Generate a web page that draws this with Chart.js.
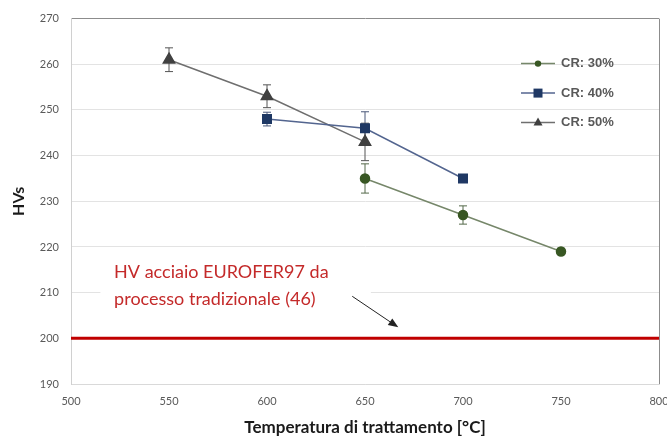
<!DOCTYPE html>
<html>
<head>
<meta charset="utf-8">
<title>HVs vs temperatura di trattamento</title>
<script src="https://cdn.jsdelivr.net/npm/chart.js@4.4.1/dist/chart.umd.min.js"></script>
<style>
  body { margin: 0; background: #ffffff; }
  #wrap { width: 667px; height: 437px; }
</style>
</head>
<body>
<div id="wrap"><canvas id="myChart"></canvas></div>
<script>
// values
const temps30 = [650, 700, 750];   // CR: 30%
const hv30 = [235, 227, 219];
const err30 = [3.2, 2.0, 0.7];

const temps40 = [600, 650, 700];   // CR: 40%
const hv40 = [248, 246, 235];
const err40 = [1.5, 3.6, 0.4];

const temps50 = [550, 600, 650];   // CR: 50%
const hv50 = [261, 253, 243];
const err50 = [2.6, 2.5, 4.1];

const refTemps = [500, 800];       // EUROFER97 reference
const refHv = [200, 200];

const seriesLabels = ['CR: 30%', 'CR: 40%', 'CR: 50%'];
const xMin = 500, xMax = 800, xStep = 50;
const yMin = 190, yMax = 270, yStep = 10;

const noteLines = ['HV acciaio EUROFER97 da', 'processo tradizionale (46)'];

function toPoints(xs, ys) {
    return xs.map((x, i) => ({x: x, y: ys[i]}));
}

// error bars, drawn under the markers
const errorBars = {
    id: 'errorBars',
    beforeDatasetsDraw(chart) {
        const ctx = chart.ctx;
        const xs = chart.scales.x, ys = chart.scales.y;
        chart.data.datasets.forEach(ds => {
            if (!ds.errors) return;
            ctx.save();
            ctx.strokeStyle = ds.errColor;
            ctx.lineWidth = 1;
            ds.data.forEach((p, i) => {
                const px = xs.getPixelForValue(p.x);
                const top = ys.getPixelForValue(p.y + ds.errors[i]);
                const bot = ys.getPixelForValue(p.y - ds.errors[i]);
                ctx.beginPath();
                ctx.moveTo(px, top); ctx.lineTo(px, bot);
                ctx.moveTo(px - 4, top); ctx.lineTo(px + 4, top);
                ctx.moveTo(px - 4, bot); ctx.lineTo(px + 4, bot);
                ctx.stroke();
            });
            ctx.restore();
        });
    }
};

// red note with white box and arrow
const refNote = {
    id: 'refNote',
    beforeDatasetsDraw(chart) {
        const ctx = chart.ctx;
        const xs = chart.scales.x, ys = chart.scales.y;
        ctx.save();
        // white box hides the 210 gridline behind the note
        const bx0 = xs.getPixelForValue(515), bx1 = xs.getPixelForValue(653);
        const by0 = ys.getPixelForValue(216), by1 = ys.getPixelForValue(205);
        ctx.fillStyle = '#ffffff';
        ctx.fillRect(bx0, by0, bx1 - bx0, by1 - by0);

        ctx.fillStyle = '#c42a2a';
        ctx.font = '18px Lato';
        ctx.textBaseline = 'alphabetic';
        ctx.textAlign = 'left';
        const tx = xs.getPixelForValue(522);
        ctx.fillText(noteLines[0], tx, ys.getPixelForValue(213.2));
        ctx.fillText(noteLines[1], tx, ys.getPixelForValue(207.3));

        // arrow
        const ax0 = xs.getPixelForValue(643.5), ay0 = ys.getPixelForValue(209.2);
        const ax1 = xs.getPixelForValue(667), ay1 = ys.getPixelForValue(202.4);
        const ang = Math.atan2(ay1 - ay0, ax1 - ax0);
        ctx.strokeStyle = '#222222';
        ctx.fillStyle = '#222222';
        ctx.lineWidth = 1;
        ctx.beginPath();
        ctx.moveTo(ax0, ay0);
        ctx.lineTo(ax1 - 8 * Math.cos(ang), ay1 - 8 * Math.sin(ang));
        ctx.stroke();
        ctx.beginPath();
        ctx.moveTo(ax1, ay1);
        ctx.lineTo(ax1 - 10 * Math.cos(ang) + 4 * Math.sin(ang), ay1 - 10 * Math.sin(ang) - 4 * Math.cos(ang));
        ctx.lineTo(ax1 - 10 * Math.cos(ang) - 4 * Math.sin(ang), ay1 - 10 * Math.sin(ang) + 4 * Math.cos(ang));
        ctx.closePath();
        ctx.fill();
        ctx.restore();
    }
};

// legend inside the plot, top right
const insideLegend = {
    id: 'insideLegend',
    afterDraw(chart) {
        const ctx = chart.ctx;
        const area = chart.chartArea;
        const x0 = area.right - 138, x1 = area.right - 104;
        const mx = (x0 + x1) / 2;
        let row = 0;
        ctx.save();
        chart.data.datasets.forEach(ds => {
            if (!ds.errors) return;
            const y = area.top + 45 + row * 29.5;
            ctx.strokeStyle = ds.borderColor;
            ctx.lineWidth = 1.5;
            ctx.beginPath();
            ctx.moveTo(x0, y); ctx.lineTo(x1, y);
            ctx.stroke();
            ctx.fillStyle = ds.pointBackgroundColor;
            ctx.beginPath();
            if (ds.pointStyle === 'circle') {
                ctx.arc(mx, y, 3.2, 0, Math.PI * 2);
            } else if (ds.pointStyle === 'rect') {
                ctx.rect(mx - 4.5, y - 4.5, 9, 9);
            } else {
                ctx.moveTo(mx, y - 5);
                ctx.lineTo(mx + 4.5, y + 3);
                ctx.lineTo(mx - 4.5, y + 3);
                ctx.closePath();
            }
            ctx.fill();
            ctx.fillStyle = '#595959';
            ctx.font = 'bold 13px "Liberation Sans"';
            ctx.textBaseline = 'middle';
            ctx.fillText(ds.label, x1 + 6, y);
            row++;
        });
        ctx.restore();
    }
};

const ctx = document.getElementById('myChart');
const myChart = new Chart(ctx, {
    type: 'line',
    data: {
        datasets: [
            {
                label: seriesLabels[0],
                data: toPoints(temps30, hv30),
                errors: err30,
                errColor: '#55694a',
                borderColor: '#76876a',
                borderWidth: 1.5,
                pointStyle: 'circle',
                pointRadius: 4.5,
                pointBackgroundColor: '#385723',
                pointBorderColor: '#385723',
                order: 1
            },
            {
                label: seriesLabels[1],
                data: toPoints(temps40, hv40),
                errors: err40,
                errColor: '#4a587a',
                borderColor: '#53658f',
                borderWidth: 1.5,
                pointStyle: 'rect',
                pointRadius: 6,
                pointBackgroundColor: '#1f3864',
                pointBorderColor: '#1f3864',
                order: 1
            },
            {
                label: seriesLabels[2],
                data: toPoints(temps50, hv50),
                errors: err50,
                errColor: '#555555',
                borderColor: '#6f6f6f',
                borderWidth: 1.5,
                pointStyle: 'triangle',
                pointRadius: 6.5,
                pointBackgroundColor: '#404040',
                pointBorderColor: '#404040',
                order: 1
            },
            {
                label: 'EUROFER97',
                data: toPoints(refTemps, refHv),
                borderColor: '#c00000',
                borderWidth: 3,
                pointRadius: 0,
                order: 2
            }
        ]
    },
    options: {
        responsive: true,
        maintainAspectRatio: false,
        animation: false,
        layout: {
            padding: {left: 0, right: 8, top: 18, bottom: 0}
        },
        scales: {
            x: {
                type: 'linear',
                min: xMin,
                max: xMax,
                afterFit: s => { s.height = 53; s.paddingRight = 0; s.paddingLeft = 0; },
                ticks: {
                    stepSize: xStep,
                    padding: 11,
                    color: '#595959',
                    font: {family: 'Lato', size: 11}
                },
                grid: {
                    drawTicks: false,
                    color: c => (c.tick && c.tick.value === xMax) ? '#8c8c8c' : 'rgba(0,0,0,0)'
                },
                border: {color: '#d9d9d9'},
                title: {
                    display: true,
                    text: 'Temperatura di trattamento [°C]',
                    color: '#1a1a1a',
                    font: {family: 'Lato', size: 17, weight: 'bold'},
                    padding: {top: 0, bottom: -1}
                }
            },
            y: {
                min: yMin,
                max: yMax,
                afterFit: s => { s.width = 71; },
                ticks: {
                    stepSize: yStep,
                    padding: 12,
                    color: '#595959',
                    font: {family: 'Lato', size: 11}
                },
                grid: {
                    drawTicks: false,
                    color: c => (c.tick && c.tick.value === yMax) ? '#8c8c8c' : '#e3e3e3'
                },
                border: {color: '#d0d0d0'},
                title: {
                    display: true,
                    text: 'HVs',
                    color: '#1a1a1a',
                    font: {family: 'Lato', size: 16, weight: 'bold'},
                    padding: {top: 9, bottom: 0}
                }
            }
        },
        plugins: {
            legend: {display: false},
            tooltip: {enabled: false}
        }
    },
    plugins: [errorBars, refNote, insideLegend]
});
</script>
</body>
</html>
